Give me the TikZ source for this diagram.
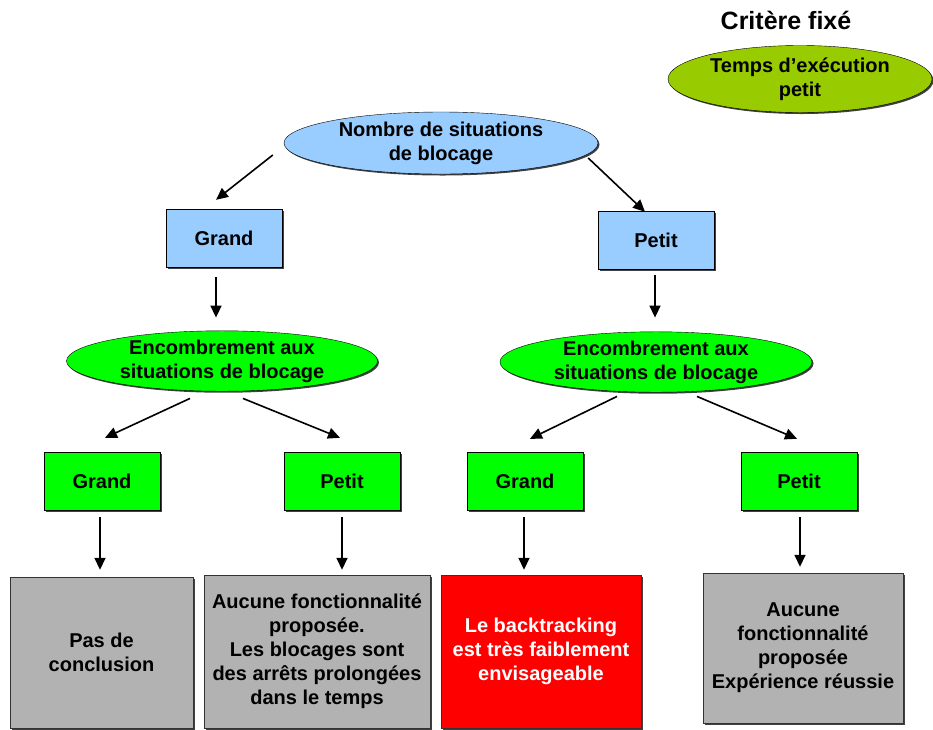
\documentclass[tikz,border=0pt]{standalone}
\usepackage{fontspec}
\setmainfont{Liberation Sans}
\usepackage{tikz}
\usetikzlibrary{shapes,shadows,arrows.meta,positioning}
\definecolor{bleuclair}{HTML}{99CCFF}
\definecolor{vertvif}{HTML}{00FF00}
\definecolor{vertolive}{HTML}{99CC00}
\definecolor{grisbox}{HTML}{B2B2B2}
\definecolor{rougebox}{HTML}{FF0000}
\tikzstyle{ombre} = [drop shadow={shadow xshift=1.5pt, shadow yshift=-1.5pt,
    opacity=1, fill=black!75}]
\tikzstyle{critere} = [ellipse, draw=black, thin, ombre, inner sep=0pt,
    align=center, font=\bfseries\fontsize{20}{24}\selectfont]
\tikzstyle{choix} = [rectangle, draw=black, thin, ombre, inner sep=0pt,
    minimum width=116pt, minimum height=58pt,
    font=\bfseries\fontsize{20}{24}\selectfont]
\tikzstyle{bilan} = [rectangle, draw=black!80, thin, ombre, inner sep=0pt,
    align=center, font=\bfseries\fontsize{20}{24}\selectfont]
\tikzstyle{fleche} = [-{Triangle[length=12pt,width=11pt]}, line width=1.6pt]

\begin{document}
\begin{tikzpicture}[x=1pt,y=-1pt]
\useasboundingbox (0,0) rectangle (933,729);

\node [font=\bfseries\fontsize{25}{30}\selectfont] (titre) at (786,20) {Critère fixé};
\node [critere, fill=vertolive, minimum width=264pt, minimum height=67pt]
    (temps) at (800,79) {Temps d'exécution\\petit};

% racine
\node [critere, fill=bleuclair, minimum width=314pt, minimum height=62pt]
    (nombre) at (441,143) {Nombre de situations\\de blocage};
\node [choix, fill=bleuclair] (grand1) at (224,238) {Grand};
\node [choix, fill=bleuclair] (petit1) at (656,240) {Petit};

\draw [fleche] ([shift={(-11,12)}]nombre.west) -- ([shift={(-8,-9)}]grand1.north);
\draw [fleche] ([shift={(-10,15)}]nombre.east) -- ([shift={(-11,1)}]petit1.north);

% encombrement
\node [critere, fill=vertvif, minimum width=311pt, minimum height=59pt]
    (encomb1) at (222,361) {Encombrement aux\\situations de blocage};
\node [critere, fill=vertvif, minimum width=312pt, minimum height=59pt]
    (encomb2) at (656,362) {Encombrement aux\\situations de blocage};

\draw [fleche] ([shift={(-8,10)}]grand1.south) -- ([shift={(-6,-13)}]encomb1.north);
\draw [fleche] ([shift={(-1,6)}]petit1.south) -- ([shift={(-1,-14)}]encomb2.north);

\node [choix, fill=vertvif] (grand2) at (102,481) {Grand};
\node [choix, fill=vertvif] (petit2) at (342,481) {Petit};
\node [choix, fill=vertvif] (grand3) at (525,481) {Grand};
\node [choix, fill=vertvif] (petit3) at (799,481) {Petit};

\draw [fleche] ([shift={(-32,7)}]encomb1.south) -- ([shift={(3,-14)}]grand2.north);
\draw [fleche] ([shift={(21,7)}]encomb1.south) -- ([shift={(-2,-14)}]petit2.north);
\draw [fleche] ([shift={(-39,4)}]encomb2.south) -- ([shift={(5,-13)}]grand3.north);
\draw [fleche] ([shift={(41,4)}]encomb2.south) -- ([shift={(-2,-13)}]petit3.north);

% conclusions
\node [bilan, fill=grisbox, minimum width=183pt, minimum height=151pt]
    (concl1) at (101.5,652.5) {Pas de\\conclusion};
\node [bilan, fill=grisbox, minimum width=226pt, minimum height=153pt]
    (concl2) at (317,651.5) {Aucune fonctionnalité\\proposée.\\Les blocages sont\\des arrêts prolongées\\dans le temps};
\node [bilan, fill=rougebox, text=white, minimum width=200pt, minimum height=153pt]
    (concl3) at (541,651.5) {Le backtracking\\est très faiblement\\envisageable};
\node [bilan, fill=grisbox, minimum width=200pt, minimum height=150pt]
    (concl4) at (803,648) {Aucune\\fonctionnalité\\proposée\\Expérience réussie};

\draw [fleche] ([shift={(-2,7)}]grand2.south) -- ([shift={(-1.5,-7)}]concl1.north);
\draw [fleche] ([shift={(0,7)}]petit2.south) -- ([shift={(25,-5)}]concl2.north);
\draw [fleche] ([shift={(-1,7)}]grand3.south) -- ([shift={(-17,-5)}]concl3.north);
\draw [fleche] ([shift={(1,7)}]petit3.south) -- ([shift={(-3,-6)}]concl4.north);

\end{tikzpicture}
\end{document}
